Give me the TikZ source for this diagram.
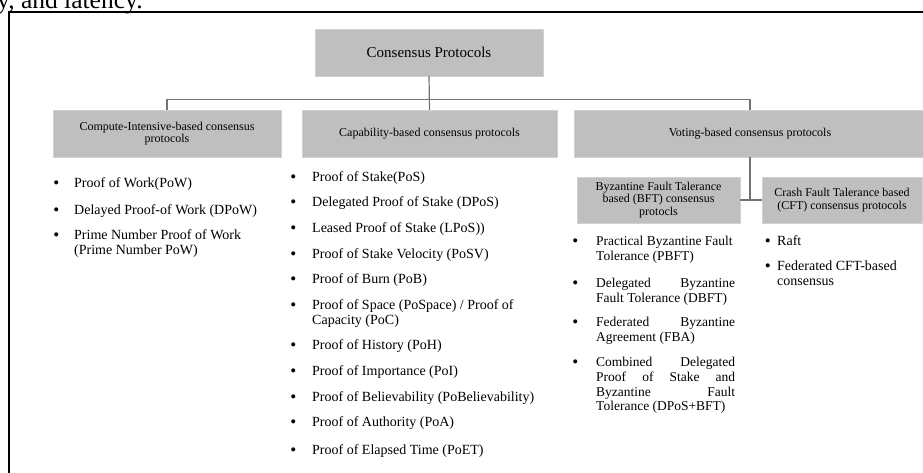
\documentclass[tikz,border=0pt]{standalone}
\usepackage{fontspec}
\setmainfont{Liberation Serif}
\usetikzlibrary{positioning}

% bullet hanging to the left of an item
\newcommand{\bul}[1]{\makebox[0pt][r]{\raisebox{-0.8pt}{\fontsize{17}{17}\selectfont\textbullet}\hspace*{#1}}}

\begin{document}
\begin{tikzpicture}[x=1pt, y=-1pt,
    every node/.style={text=black},
    box/.style={draw=gray!35, fill=gray!50, inner sep=0pt, align=center, minimum height=47pt, font=\fontsize{12}{12.5}\selectfont},
    conn/.style={draw=gray!90!black, line width=1.2pt},
    item/.style={anchor=base west, inner sep=0pt, align=left, font=\fontsize{14}{15}\selectfont},
    jitem/.style={item, align=justify, text width=139pt, font=\fontsize{13.5}{14.8}\selectfont}]
    \useasboundingbox (0,0) rectangle (923,473);
    \clip (0,0) rectangle (923,473);

    % cut-off text line and page frame
    \node[anchor=base west, inner sep=0pt, font=\fontsize{25.5}{26}\selectfont] (topline) at (-3,9) {y, and latency.};
    \draw[line width=2pt] (9,474) -- (9,12) -- (924,12);

    % Boxes
    \node[box, minimum width=228pt, font=\fontsize{15}{16}\selectfont] (root) at (429,52.5) {Consensus Protocols};
    \node[box, minimum width=228pt] (compute) at (167,133.5) {Compute-Intensive-based consensus\\protocols};
    \node[box, minimum width=255pt] (capab) at (429.5,133.5) {Capability-based consensus protocols};
    \node[box, minimum width=352pt] (vote) at (750,133.5) {Voting-based consensus protocols};
    \node[box, minimum width=163pt, minimum height=46pt] (bft) at (658.5,200) {Byzantine Fault Talerance\\based (BFT) consensus\\protocls};
    \node[box, minimum width=160pt, minimum height=46pt] (cft) at (842,200) {Crash Fault Talerance based\\(CFT) consensus protocols};

    % Connectors
    \draw[conn] (root.south) -- (capab.north);
    \draw[conn] (compute.north) -- ++(0,-10) -| (vote.north);
    \draw[conn] (vote.south) -- (vote.south |- bft.east);
    \draw[conn] (bft.east) -- (cft.west);

    % Compute-intensive list (two-line items sit on their last baseline)
    \begin{scope}
    \clip (0,160) rectangle (259,300);
    \node[item] (pow) at (74,187.5) {\bul{15pt}Proof of Work(PoW)};
    \node[item] (dpow) at (74,214.5) {\bul{15pt}Delayed Proof-of Work (DPoW)};
    \node[item] (ppow) at (74,254.5) {\bul{15pt}Prime Number Proof of Work\\(Prime Number PoW)};
    \end{scope}

    % Capability list
    \node[item] (pos) at (312,181.5) {\bul{16pt}Proof of Stake(PoS)};
    \node[item] (dpos) at (312,206.5) {\bul{16pt}Delegated Proof of Stake (DPoS)};
    \node[item] (lpos) at (312,232.5) {\bul{16pt}Leased Proof of Stake (LPoS))};
    \node[item] (posv) at (312,258.5) {\bul{16pt}Proof of Stake Velocity (PoSV)};
    \node[item] (pob) at (312,283.5) {\bul{16pt}Proof of Burn (PoB)};
    \node[item] (pospace) at (312,324.5) {\bul{16pt}Proof of Space (PoSpace) / Proof of\\Capacity (PoC)};
    \node[item] (poh) at (312,349.5) {\bul{16pt}Proof of History (PoH)};
    \node[item] (poi) at (312,375.5) {\bul{16pt}Proof of Importance (PoI)};
    \node[item] (pobel) at (312,401.5) {\bul{16pt}Proof of Believability (PoBelievability)};
    \node[item] (poa) at (312,426.5) {\bul{16pt}Proof of Authority (PoA)};
    \node[item] (poet) at (312,454.5) {\bul{16pt}Proof of Elapsed Time (PoET)};

    % BFT list
    \node[jitem] (pbft) at (596,245.5) {\bul{18pt}Practical Byzantine Fault\\Tolerance (PBFT)};
    \node[jitem] (dbft) at (596,287.5) {\bul{18pt}Delegated Byzantine\linebreak Fault Tolerance (DBFT)};
    \node[jitem] (fba) at (596,326.5) {\bul{18pt}Federated Byzantine\linebreak Agreement (FBA)};
    \node[jitem] (dposbft) at (596,366.5) {\bul{18pt}Combined Delegated\linebreak Proof of Stake and\linebreak Byzantine Fault\linebreak Tolerance (DPoS+BFT)};

    % CFT list
    \node[item] (raft) at (777,245.5) {\bul{6.5pt}Raft};
    \node[item] (fcft) at (777,285.5) {\bul{6.5pt}Federated CFT-based\\consensus};
\end{tikzpicture}
\end{document}
